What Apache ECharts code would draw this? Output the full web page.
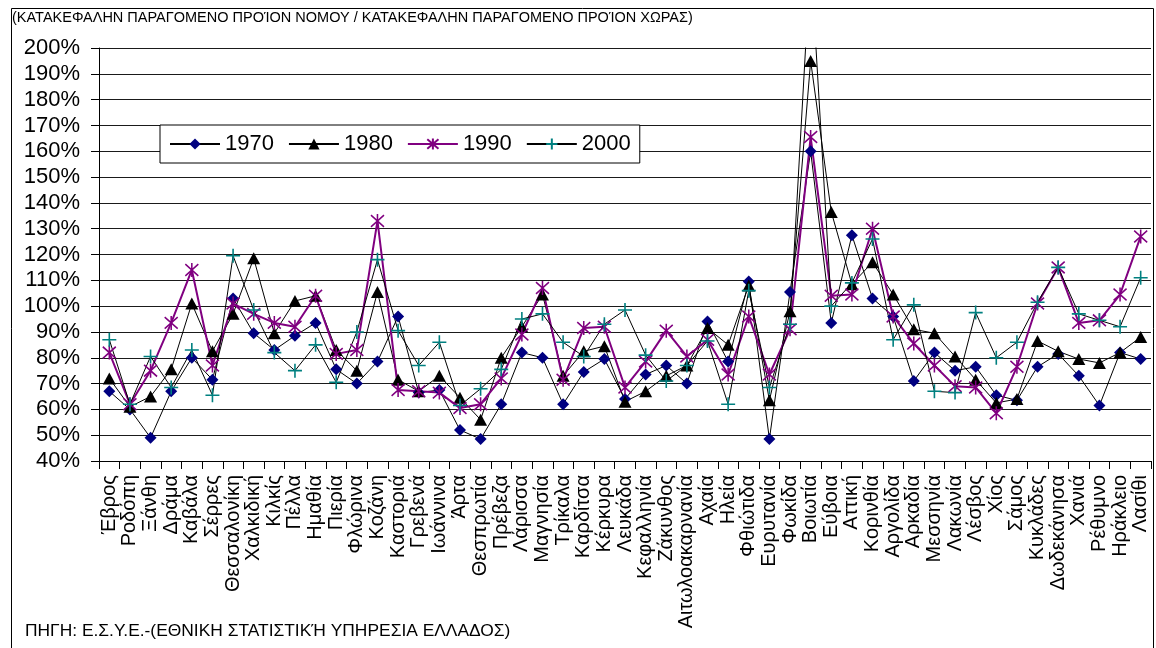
<!DOCTYPE html>
<html>
<head>
<meta charset="utf-8">
<script src="https://cdn.jsdelivr.net/npm/echarts@6/dist/echarts.min.js"></script>
<style>
html,body{margin:0;padding:0;background:#fff;}
#chart{width:1156px;height:648px;}
</style>
</head>
<body>
<div id="chart"></div>
<script>
const categories = ['Έβρος','Ροδόπη','Ξάνθη','Δράμα','Καβάλα','Σέρρες','Θεσσαλονίκη','Χαλκιδική','Κιλκίς','Πέλλα','Ημαθία','Πιερία','Φλώρινα','Κοζάνη','Καστοριά','Γρεβενά','Ιωάννινα','Άρτα','Θεσπρωτία','Πρέβεζα','Λάρισσα','Μαγνησία','Τρίκαλα','Καρδίτσα','Κέρκυρα','Λευκάδα','Κεφαλληνία','Ζάκυνθος','Αιτωλοακαρνανία','Αχαία','Ηλεία','Φθιώτιδα','Ευρυτανία','Φωκίδα','Βοιωτία','Εύβοια','Αττική','Κορινθία','Αργολίδα','Αρκαδία','Μεσσηνία','Λακωνία','Λέσβος','Χίος','Σάμος','Κυκλάδες','Δωδεκάνησα','Χανιά','Ρέθυμνο','Ηράκλειο','Λασίθι'];

const v1970 = [67,60,49,67,80,71.5,103,89.5,83,88.5,93.5,75.5,70,78.5,96,66.5,67.5,52,48.5,62,82,80,62,74.5,79.5,64,73.5,77,70,94,78.5,109.5,48.5,105.5,160,93.5,127.5,103,96,71,82,75,76.5,65.5,63.5,76.5,81.5,73,61.5,82,79.5];
const v1980 = [72,61,65,75.5,101,82.5,97,118.5,89.5,102,104,83,75,105.5,71.5,67,73,64.5,56,80,92,104.5,73,82.5,84.5,63,67,73,77,91.5,85,108,63.5,98,195,136.5,108.5,117,104.5,91,89.5,80.5,71.5,62.5,64,86.5,82.5,79.5,78,82,88];
const v1990 = [82,62,75,93.5,114,77,101,97,93.5,92,104,81.5,83,133,67.5,67,66.5,60.5,62,72,89,107,71.5,91.5,92,68.5,78.5,90.5,80.5,87,73.5,96,73.5,91,165.5,104,104.5,130,96,85.5,77,69,68.5,58.5,76.5,101,115,93.5,94.5,104.5,127];
const v2000 = [87,62,80.5,68.5,83,65.5,119.5,98.5,82,75,85,70.5,90,118,90.5,77,86,61.5,68,75.5,95,97,86,80.5,93,98.5,81,71,77,86.5,62,106,68.5,93,235,100,109,126,87,100.5,67,66.5,97.5,80,86,101.5,115,97,94.5,92,111];

const seriesNames = ['1970','1980','1990','2000'];
const yTicks = {min:40, max:200, step:10};

const FONT = '"Liberation Sans", Arial, sans-serif';
const chart = echarts.init(document.getElementById('chart'), null, {renderer:'canvas'});

const option = {
  animation: false,
  backgroundColor: '#fff',
  textStyle: {fontFamily: FONT, color: '#000'},
  graphic: [
    {type:'rect', left:9, top:6, shape:{width:1142, height:660}, style:{fill:'none', stroke:'#000', lineWidth:1}, silent:true, z:-1},
    {type:'text', left:12, top:10, style:{text:'(ΚΑΤΑΚΕΦΑΛΗΝ ΠΑΡΑΓΟΜΕΝΟ ΠΡΟΊΟΝ ΝΟΜΟΥ / ΚΑΤΑΚΕΦΑΛΗΝ ΠΑΡΑΓΟΜΕΝΟ ΠΡΟΊΟΝ ΧΩΡΑΣ)', font:'14.5px ' + FONT, fill:'#000'}},
    {type:'text', left:25, top:623, style:{text:'ΠΗΓΗ: Ε.Σ.Υ.Ε.-(ΕΘΝΙΚΗ ΣΤΑΤΙΣΤΙΚΉ ΥΠΗΡΕΣΙΑ ΕΛΛΑΔΟΣ)', font:'17.4px ' + FONT, fill:'#000'}}
  ],
  legend: {
    left: 160, top: 125,
    orient: 'horizontal',
    data: seriesNames,
    backgroundColor: '#fff',
    borderColor: '#000',
    borderWidth: 1,
    borderRadius: 0,
    padding: [8, 9, 8, 9],
    itemWidth: 50,
    itemHeight: 14,
    itemGap: 14,
    textStyle: {fontSize: 22, fontFamily: FONT, color: '#000'}
  },
  grid: {left: 99, right: 5, top: 48, bottom: 187, containLabel: false},
  xAxis: {
    type: 'category',
    data: categories,
    boundaryGap: true,
    axisLine: {show: true, lineStyle: {color: '#000', width: 1}},
    axisTick: {show: true, length: 8, alignWithLabel: false, lineStyle: {color: '#000'}},
    axisLabel: {rotate: 90, interval: 0, fontSize: 20, fontFamily: FONT, color: '#000', margin: 14},
    splitLine: {show: false}
  },
  yAxis: {
    type: 'value',
    min: yTicks.min, max: yTicks.max, interval: yTicks.step,
    axisLine: {show: true, lineStyle: {color: '#000', width: 1}},
    axisTick: {show: true, length: 8, lineStyle: {color: '#000'}},
    axisLabel: {formatter: '{value}%', fontSize: 22, fontFamily: FONT, color: '#000', margin: 19},
    splitLine: {show: true, lineStyle: {color: '#1a1a1a', width: 1}}
  },
  series: [
    {
      name: seriesNames[0], type: 'line', data: v1970, clip: true,
      symbol: 'diamond', symbolSize: [12, 12],
      itemStyle: {color: '#000080', borderWidth: 0},
      lineStyle: {color: '#000', width: 1}
    },
    {
      name: seriesNames[1], type: 'line', data: v1980, clip: true,
      symbol: 'triangle', symbolSize: [13, 12],
      itemStyle: {color: '#000', borderWidth: 0},
      lineStyle: {color: '#000', width: 1}
    },
    {
      name: seriesNames[2], type: 'line', data: v1990, clip: true,
      symbol: 'path://M0,0L10,10M10,0L0,10M5,-1L5,11', symbolSize: [13, 14],
      itemStyle: {color: 'rgba(0,0,0,0)', borderColor: '#800080', borderWidth: 1.6},
      lineStyle: {color: '#800080', width: 2}
    },
    {
      name: seriesNames[3], type: 'line', data: v2000, clip: true,
      symbol: 'path://M5,0L5,10M0,5L10,5', symbolSize: [14, 14],
      itemStyle: {color: 'rgba(0,0,0,0)', borderColor: '#008080', borderWidth: 1.6},
      lineStyle: {color: '#000', width: 1}
    }
  ]
};
chart.setOption(option);
</script>
</body>
</html>
